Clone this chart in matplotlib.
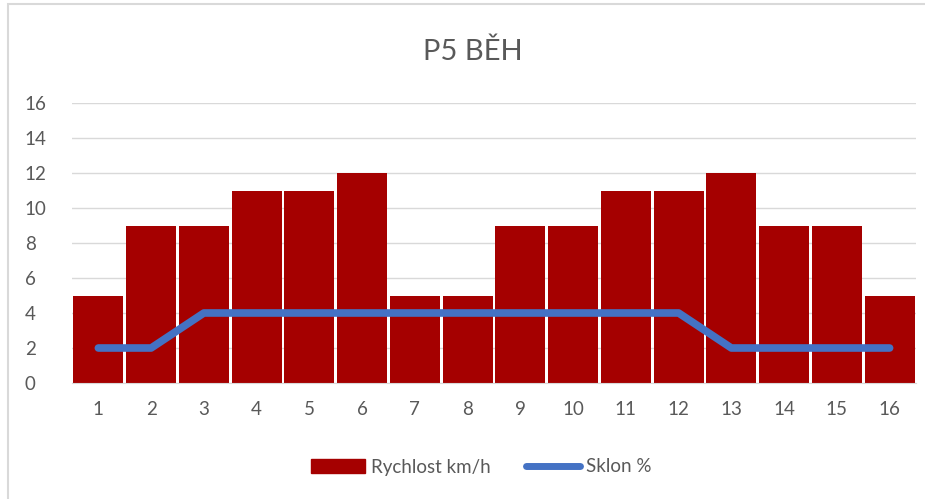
import matplotlib
matplotlib.use("Agg")
import matplotlib.pyplot as plt
from matplotlib.patches import Rectangle
from matplotlib.lines import Line2D

categories = [str(i) for i in range(1, 17)]
speed = [5, 9, 9, 11, 11, 12, 5, 5, 9, 9, 11, 11, 12, 9, 9, 5]
slope = [2, 2, 4, 4, 4, 4, 4, 4, 4, 4, 4, 4, 2, 2, 2, 2]
yticks = [0, 2, 4, 6, 8, 10, 12, 14, 16]

plt.rcParams['font.family'] = ['Lato', 'DejaVu Sans']
txt = '#595959'

fig = plt.figure(figsize=(9.25, 4.99), dpi=100)
ax = fig.add_axes([72/925, 1-383/499, (916-72)/925, (383-103)/499])

x = list(range(len(categories)))
ax.bar(x, speed, width=0.95, color='#A50000', zorder=2, label='Rychlost km/h')
ax.plot(x, slope, color='#4472C4', lw=5.5, solid_capstyle='round', solid_joinstyle='round', zorder=3, label='Sklon %')

ax.set_xlim(-0.5, len(categories)-0.5)
ax.set_ylim(0, 16)
ax.set_yticks(yticks)
ax.set_xticks(x)
ax.set_xticklabels(categories)
ax.grid(axis='y', color='#D9D9D9', lw=1, zorder=0)
for s in ['top', 'right', 'left']:
    ax.spines[s].set_visible(False)
ax.spines['bottom'].set_color('#D9D9D9')
ax.tick_params(axis='both', length=0, labelsize=13.5, colors=txt)
ax.tick_params(axis='x', pad=13)
ax.tick_params(axis='y', pad=34)
for lbl in ax.get_yticklabels():
    lbl.set_horizontalalignment('left')

fig.text(473/925, 1-52/499, 'P5 BĚH', ha='center', va='center', fontsize=21, color=txt)

handles = [Rectangle((0, 0), 1, 1, color='#A50000'),
           Line2D([0], [0], color='#4472C4', lw=5, solid_capstyle='round')]
fig.legend(handles, ['Rychlost km/h', 'Sklon %'], loc='center', bbox_to_anchor=(481/925, 1-467/499),
           ncol=2, frameon=False, fontsize=13.5, labelcolor=txt, handlelength=2.9, handleheight=0.75,
           handletextpad=0.3, columnspacing=1.9)

fig.add_artist(Rectangle((8/925, -0.1), 1.0, 1-4/499+0.1, transform=fig.transFigure,
                         fill=False, edgecolor='#D9D9D9', lw=1.5))

fig.savefig('out.png', dpi=100)
